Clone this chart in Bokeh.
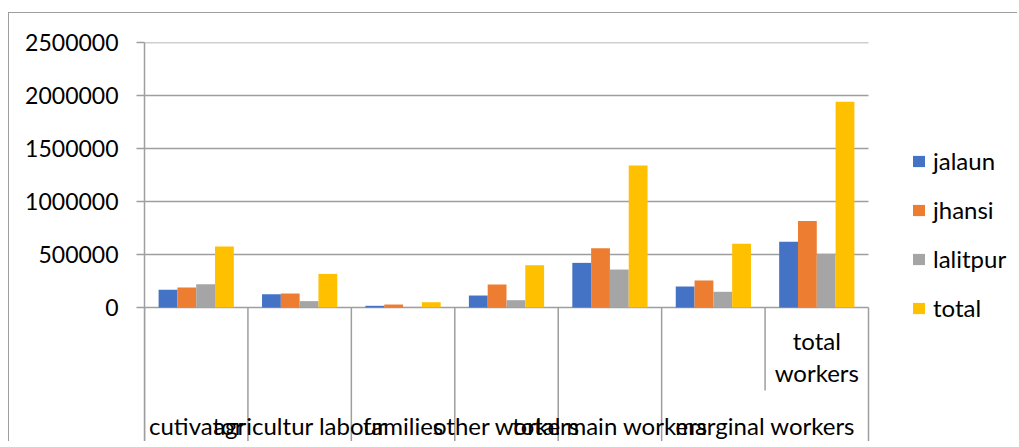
import numpy as np
from bokeh.plotting import figure
from bokeh.models import Range1d, FixedTicker, NumeralTickFormatter, Legend, LegendItem, ColumnDataSource
from bokeh.core.properties import value
from bokeh.embed import file_html
from bokeh.resources import INLINE

# ---------------- data ----------------
categories = ["cutivator", "agricultur labour", "families", "other workers",
              "total main workers", "marginal workers", "total workers"]
jalaun = [167000, 125000, 16000, 113000, 421000, 198000, 620000]
jhansi = [189000, 132000, 28000, 217000, 560000, 255000, 815000]
lalitpur = [220000, 60000, 6000, 69000, 358000, 148000, 506000]
total = [576000, 317000, 50000, 399000, 1339000, 601000, 1941000]
series_names = ["jalaun", "jhansi", "lalitpur", "total"]
y_ticks = [0, 500000, 1000000, 1500000, 2000000, 2500000]

# two-level category axis as it appears in the source sheet
inner_labels = ["", "", "", "", "", "", "total workers"]
outer_labels = ["cutivator", "agricultur labour", "families", "other workers",
                "total main workers", "marginal workers"]
outer_spans = [1, 1, 1, 1, 1, 2]

# ---------------- styling / layout ----------------
colors = ["#4472C4", "#ED7D31", "#A5A5A5", "#FFC000"]
grid_col = "#9e9e9e"
FONT = "Lato"
FS = "24px"
W, H = 1009, 429
ML, MR, MT, MB = 135, 0, 29, 0
frame_w = W - ML - MR
frame_h = H - MT - MB
plot_w = 724                        # pixel width of the category area
zero_px = 265                       # pixels from frame top to the zero line
ymax = 2500000
per_px = ymax / zero_px
ymin = -(frame_h - zero_px) * per_px

n = len(categories)
x_end = n * frame_w / plot_w
p = figure(width=W, height=H, output_backend="svg", toolbar_location=None,
           x_range=Range1d(0, x_end), y_range=Range1d(ymin, ymax),
           min_border_left=ML, min_border_right=MR, min_border_top=MT, min_border_bottom=MB)
p.outline_line_color = None
p.xaxis.visible = False
p.xgrid.visible = False
p.ygrid.visible = False
p.styles = {"border-left": f"1px solid {grid_col}", "border-top": f"1px solid {grid_col}",
            "margin-top": "12px", "margin-left": "8px"}

p.yaxis.ticker = FixedTicker(ticks=y_ticks)
p.yaxis.formatter = NumeralTickFormatter(format="0")
p.yaxis.major_label_text_font = FONT
p.yaxis.major_label_text_font_size = "23px"
p.yaxis.major_label_text_color = "#000000"
p.yaxis.major_label_standoff = 18
p.yaxis.axis_line_color = grid_col
p.yaxis.axis_line_width = 1.5
p.yaxis.major_tick_line_color = grid_col
p.yaxis.major_tick_line_width = 1.5
p.yaxis.major_tick_out = 8
p.yaxis.major_tick_in = 0
p.yaxis.minor_tick_line_color = None

# horizontal gridlines over the category area only
p.segment(x0=[0] * len(y_ticks), y0=y_ticks, x1=[n] * len(y_ticks), y1=y_ticks,
          line_color=grid_col, line_width=1.5)

# bars: gap width 150% -> bar width = 1/5.5 of a category
bw = 1 / 5.5
centers = np.arange(n) + 0.5
renderers = []
for j, (name, vals) in enumerate(zip(series_names, [jalaun, jhansi, lalitpur, total])):
    src = ColumnDataSource(dict(x=centers + (j - 1.5) * bw, top=vals))
    r = p.vbar(x="x", top="top", bottom=0, width=bw, source=src,
               fill_color=colors[j], line_color=None)
    renderers.append(r)

# category separators (full height, except where the outer group spans two categories)
bounds = np.arange(n + 1)
outer_edges = np.concatenate([[0], np.cumsum(outer_spans)])
full = [b for b in bounds if b in outer_edges]
half = [b for b in bounds if b not in outer_edges]
mid_y = -(390 - 307) * per_px
p.segment(x0=full, y0=[0] * len(full), x1=full, y1=[ymin] * len(full),
          line_color=grid_col, line_width=1.5)
p.segment(x0=half, y0=[0] * len(half), x1=half, y1=[mid_y] * len(half),
          line_color=grid_col, line_width=1.5)

# inner level labels (wrapped)
inner_x = [c for c, t in zip(centers, inner_labels) if t]
inner_t = ["\n".join(t.split(" ")) for t in inner_labels if t]
p.text(x=inner_x, y=[-(356 - 307) * per_px] * len(inner_x), text=inner_t,
       text_font=value(FONT), text_font_size=FS, text_align="center",
       text_baseline="middle", text_line_height=1.13, text_color="#000000")

# outer level labels
outer_x = list(outer_edges[:-1] + np.array(outer_spans) / 2)
p.text(x=outer_x, y=[-(425 - 307) * per_px] * len(outer_x), text=outer_labels,
       text_font=value(FONT), text_font_size=FS, text_align="center",
       text_baseline="middle", text_color="#000000")

legend = Legend(items=[LegendItem(label=nm, renderers=[r]) for nm, r in zip(series_names, renderers)],
                location=(767, 120), orientation="vertical",
                glyph_width=15, glyph_height=14, label_standoff=7, spacing=20,
                padding=0, margin=0, border_line_color=None, background_fill_alpha=0,
                label_text_font=FONT, label_text_font_size=FS, label_text_color="#000000")
p.add_layout(legend)

open("out.html", "w").write(file_html(p, INLINE))
